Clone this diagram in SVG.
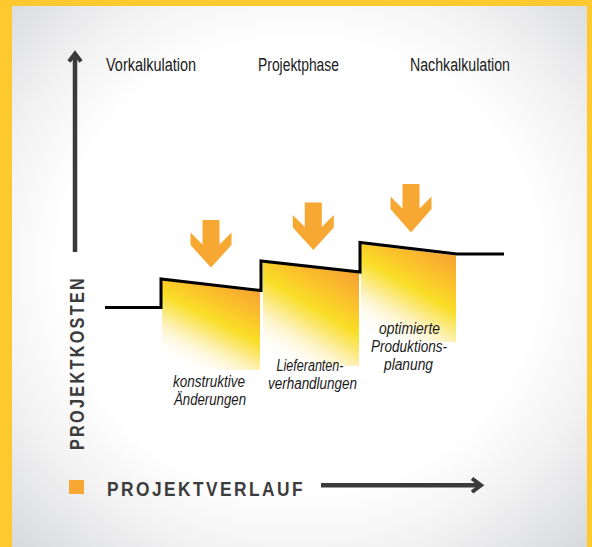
<svg xmlns="http://www.w3.org/2000/svg" width="592" height="547" viewBox="0 0 592 547">
<defs>
<radialGradient id="bg" cx="0.5" cy="0.48" r="0.72">
<stop offset="0" stop-color="#ffffff"/>
<stop offset="0.58" stop-color="#ffffff"/>
<stop offset="0.76" stop-color="#f2f2f3"/>
<stop offset="1" stop-color="#d8d9db"/>
</radialGradient>
<linearGradient id="fade" x1="0.8" y1="0" x2="0.25" y2="1">
<stop offset="0" stop-color="#f6a132"/>
<stop offset="0.28" stop-color="#fbc52b"/>
<stop offset="0.45" stop-color="#f9de26"/>
<stop offset="0.7" stop-color="#fdf1b8"/>
<stop offset="1" stop-color="#ffffff" stop-opacity="0"/>
</linearGradient>
<style>
.lbl{font-family:"Liberation Sans","DejaVu Sans",sans-serif;font-size:18px;fill:#1a1a1a}
.it{font-family:"Liberation Sans","DejaVu Sans",sans-serif;font-size:16px;font-style:italic;fill:#1a1a1a;text-anchor:middle}
.axis{font-family:"Liberation Sans","DejaVu Sans",sans-serif;font-weight:bold;font-size:21px;fill:#3c3c3c}
.dark{stroke:#3a3a3a;fill:none}
.down{fill:#f7a833}
</style>
</defs>
<rect x="0" y="0" width="592" height="547" fill="#fdc92e"/>
<rect x="12" y="6" width="575" height="541" fill="url(#bg)"/>

<g id="axes">
<line class="dark" x1="75" y1="55" x2="75" y2="252" stroke-width="4.5"/>
<polyline class="dark" points="69,61.5 75,53.5 81,61.5" stroke-width="4" stroke-linejoin="miter"/>
<line class="dark" x1="321" y1="485.3" x2="480" y2="485.3" stroke-width="4.5"/>
<polyline class="dark" points="472,478.5 481,485.3 472,492" stroke-width="4" stroke-linejoin="miter"/>
</g>

<g id="labels-top">
<text class="lbl" x="106" y="71" textLength="90" lengthAdjust="spacingAndGlyphs">Vorkalkulation</text>
<text class="lbl" x="258" y="71" textLength="81" lengthAdjust="spacingAndGlyphs">Projektphase</text>
<text class="lbl" x="410" y="71" textLength="100" lengthAdjust="spacingAndGlyphs">Nachkalkulation</text>
</g>

<g id="fills">
<polygon points="162,280 260,291.5 260,370 162,370" fill="url(#fade)"/>
<polygon points="263,262 359,273 359,366 263,366" fill="url(#fade)"/>
<polygon points="361,244 456,255.5 456,342 361,342" fill="url(#fade)"/>
</g>

<g id="connectors">
<path d="M105,307.5 H161 V279 L261,290.5 V261 L360,272 V242.5 L457,254 H504" fill="none" stroke="#000" stroke-width="3" stroke-linejoin="miter"/>
</g>

<g id="arrow1">
<polygon class="down" points="202.5,220 219.5,220 219.5,244.5 231.5,232.5 231.5,245 211,267.5 190.5,245 190.5,232.5 202.5,244.5"/>
</g>
<g id="arrow2">
<polygon class="down" points="304.8,202.5 321.8,202.5 321.8,227 333.8,215 333.8,227.5 313.3,250 292.8,227.5 292.8,215 304.8,227"/>
</g>
<g id="arrow3">
<polygon class="down" points="402.5,184 419.5,184 419.5,208.5 431.5,196.5 431.5,209 411,232.5 390.5,209 390.5,196.5 402.5,208.5"/>
</g>

<g id="label1">
<text class="it" x="209" y="387" textLength="72" lengthAdjust="spacingAndGlyphs">konstruktive</text>
<text class="it" x="210" y="405" textLength="72" lengthAdjust="spacingAndGlyphs">Änderungen</text>
</g>
<g id="label2">
<text class="it" x="310" y="371" textLength="67" lengthAdjust="spacingAndGlyphs">Lieferanten-</text>
<text class="it" x="312.5" y="389" textLength="89" lengthAdjust="spacingAndGlyphs">verhandlungen</text>
</g>
<g id="label3">
<text class="it" x="409.5" y="334" textLength="61" lengthAdjust="spacingAndGlyphs">optimierte</text>
<text class="it" x="409" y="352" textLength="76" lengthAdjust="spacingAndGlyphs">Produktions-</text>
<text class="it" x="408.5" y="370" textLength="49" lengthAdjust="spacingAndGlyphs">planung</text>
</g>

<g id="y-title">
<text class="axis" transform="translate(84,450) rotate(-90)" x="0" y="0" textLength="174" lengthAdjust="spacingAndGlyphs" letter-spacing="3">PROJEKTKOSTEN</text>
</g>
<g id="x-title">
<rect x="69" y="480" width="15" height="14" fill="#f7a833"/>
<text class="axis" x="107" y="496" textLength="198" lengthAdjust="spacingAndGlyphs" letter-spacing="3">PROJEKTVERLAUF</text>
</g>
</svg>
